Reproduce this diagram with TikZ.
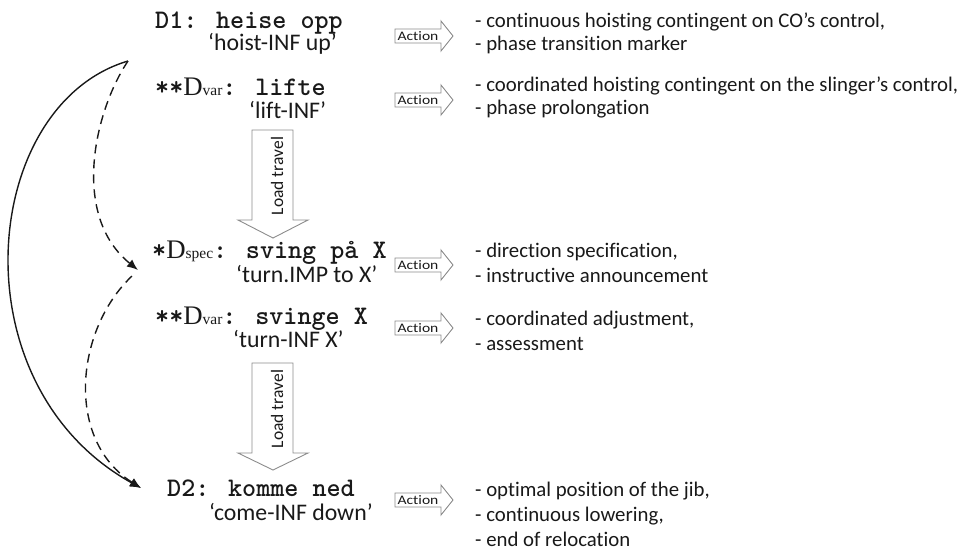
\documentclass[tikz,border=0pt]{standalone}
\usepackage{fontspec}
\setmainfont{Carlito}[Ligatures=NoCommon]
\newfontfamily\monofam{lmmonolt10-bold}[Extension=.otf]
\newfontfamily\seriffam{Liberation Serif}
\usetikzlibrary{arrows.meta}

% directive label: serif D with a smaller tag
\newcommand\dtag[1]{{\seriffam D{\fontsize{15.5}{15}\selectfont #1}}}

\definecolor{ink}{RGB}{25,25,25}
\definecolor{frame}{RGB}{140,140,140}

\tikzset{
  directive/.style={font=\monofam\fontsize{26.8}{27}\selectfont, text=ink, anchor=base west, inner sep=0pt},
  gloss/.style={font=\fontsize{23.8}{24}\selectfont, text=ink, anchor=base west, inner sep=0pt},
  note/.style={font=\fontsize{20.8}{22}\selectfont, text=ink, anchor=base west, inner sep=0pt},
  acttext/.style={font=\fontsize{13}{13}\selectfont, text=ink, inner sep=0pt},
  travtext/.style={font=\fontsize{17.5}{18}\selectfont, text=ink, rotate=90, inner sep=0pt},
  hollow/.style={draw=frame, line width=0.9pt, fill=white},
  flow/.style={line width=1.4pt, draw=ink, -{Latex[length=11pt,width=9pt]}},
  flowdash/.style={flow, dash pattern=on 9pt off 6pt},
}

\begin{document}
\begin{tikzpicture}[x=1pt,y=-1pt]
\useasboundingbox (0,0) rectangle (959,550);

% ---- directives and glosses
\node[directive] (d1) at (155,28) {D1: heise opp};
\node[gloss, anchor=base east] (g1) at (337,50) {‘hoist-INF up’};
\node[directive] (dv1) at (155,95) {**\dtag{var}: lifte};
\node[gloss] (g2) at (249,118) {‘lift-INF’};
\node[directive] (ds) at (152,258) {*\dtag{spec}: sving på X};
\node[gloss] (g3) at (236,282) {‘turn.IMP to X’};
\node[directive] (dv2) at (155,324) {**\dtag{var}: svinge X};
\node[gloss] (g4) at (233,347) {‘turn-INF X’};
\node[directive] (d2) at (167,496) {D2: komme ned};
\node[gloss] (g5) at (209,520) {‘come-INF down’};

% ---- hollow "Action" arrows
\foreach \nm/\yy in {a1/36, a2/100, a3/265, a4/328, a5/500}{
  \path[hollow] (395,\yy-7) -- (441,\yy-7) -- (441,\yy-15) -- (453,\yy)
      -- (441,\yy+15) -- (441,\yy+7) -- (395,\yy+7) -- cycle;
  \node[acttext] (\nm) at (418,\yy) {\scalebox{1.2}[1]{Action}};
}

% ---- action descriptions
\node[note] (n1a) at (475,27) {- continuous hoisting contingent on CO’s control,};
\node[note] (n1b) at (475,50) {- phase transition marker};
\node[note] (n2a) at (475,91) {- coordinated hoisting contingent on the slinger’s control,};
\node[note] (n2b) at (475,114) {- phase prolongation};
\node[note] (n3a) at (475,257) {- direction specification,};
\node[note] (n3b) at (475,282) {- instructive announcement};
\node[note] (n4a) at (475,325) {- coordinated adjustment,};
\node[note] (n4b) at (475,350) {- assessment};
\node[note] (n5a) at (475,496) {- optimal position of the jib,};
\node[note] (n5b) at (475,521) {- continuous lowering,};
\node[note] (n5c) at (475,546) {- end of relocation};

% ---- hollow "Load travel" arrows
\foreach \nm/\top/\neck/\tip in {t1/130/220/238, t2/363/453/470}{
  \path[hollow] (252,\top) -- (293,\top) -- (293,\neck) -- (308,\neck) -- (273,\tip)
      -- (238,\neck) -- (252,\neck) -- cycle;
  \node[travtext] (\nm) at (277,{(\top+\neck)/2+1}) {Load travel};
}

% ---- sequence links on the left
\coordinate (src) at (128,61);
\coordinate (mid) at (132,276);
\coordinate (hitS) at (138,270);
\coordinate (hitD) at (141,488);

\draw[flow] (src) .. controls (-20,105) and (-45,385) .. (hitD);
\draw[flowdash] (src) .. controls (95,110) and (70,215) .. (hitS);
\draw[flowdash] (mid) .. controls (75,330) and (65,440) .. (hitD);
\end{tikzpicture}
\end{document}
